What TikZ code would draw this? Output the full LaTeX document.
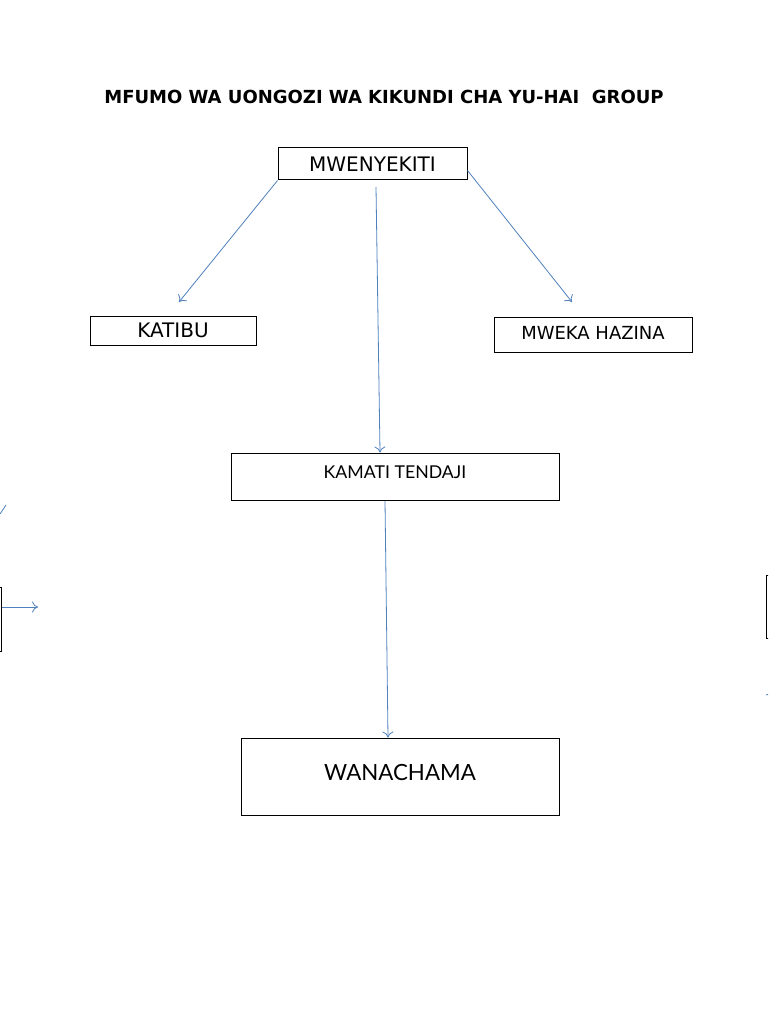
\documentclass[tikz,border=0pt]{standalone}
\usepackage{fontspec}
\setmainfont{DejaVu Sans}
\newfontfamily\latofont{Lato}
\usetikzlibrary{arrows.meta}
\definecolor{linkblue}{HTML}{4F81BD}
\begin{document}
\begin{tikzpicture}[x=1pt,y=-1pt,
  box/.style={draw=black,line width=1pt,rectangle,inner sep=0pt,font=\fontsize{20}{24}\selectfont},
  link/.style={draw=linkblue,line width=0.8pt,-{To[length=6pt,width=11pt]}},
  frag/.style={draw=black,line width=1pt}]
\useasboundingbox (0,0) rectangle (768,1024);
\clip (0,0) rectangle (768,1024);
\fill[white] (0,0) rectangle (768,1024);
\node[font=\fontsize{18}{22}\selectfont\bfseries] (title) at (384,97) {MFUMO WA UONGOZI WA KIKUNDI CHA YU-HAI\ \ GROUP};
\node[box,minimum width=189pt,minimum height=32pt] (mw) at (372.5,164) {MWENYEKITI};
\node[box,minimum width=166pt,minimum height=29pt] (katibu) at (173,330.5) {\raisebox{-1.5pt}{KATIBU}};
\node[box,minimum width=198pt,minimum height=35pt,font=\fontsize{18}{21}\selectfont] (mweka) at (593,335) {\raisebox{4pt}{MWEKA HAZINA}};
\node[box,minimum width=328pt,minimum height=47pt,font=\latofont\fontsize{17.7}{21}\selectfont] (kamati) at (395,476.5) {\raisebox{8.5pt}{KAMATI TENDAJI}};
\node[box,minimum width=318pt,minimum height=77pt,font=\latofont\fontsize{22.3}{27}\selectfont] (wana) at (400,776.5) {\raisebox{8.5pt}{WANACHAMA}};
% connectors
\coordinate (k1) at (179,302);
\coordinate (m1) at (572,302);
\coordinate (c0) at (376,187);
\coordinate (w0) at (385,501);
\draw[link] (mw.south west) -- (k1);
\draw[link] ([yshift=10pt]mw.south east) -- (m1);
\draw[link] (c0) -- (kamati.north -| 380,0);
\draw[link] (w0) -- ([xshift=-12pt]wana.north);
% fragments at the page edges
\draw[draw=linkblue,line width=0.8pt] (0,514) -- (6,505);
\draw[frag] (-20,587) -- (1,587) -- (1,651) -- (-20,651);
\coordinate (la) at (2,607);
\coordinate (lb) at (38,607);
\draw[link] (la) -- (lb);
\draw[frag] (790,575) -- (766.5,575) -- (766.5,638) -- (790,638);
\draw[draw=linkblue,line width=0.8pt] (766,695) -- (769,694);
\end{tikzpicture}
\end{document}
